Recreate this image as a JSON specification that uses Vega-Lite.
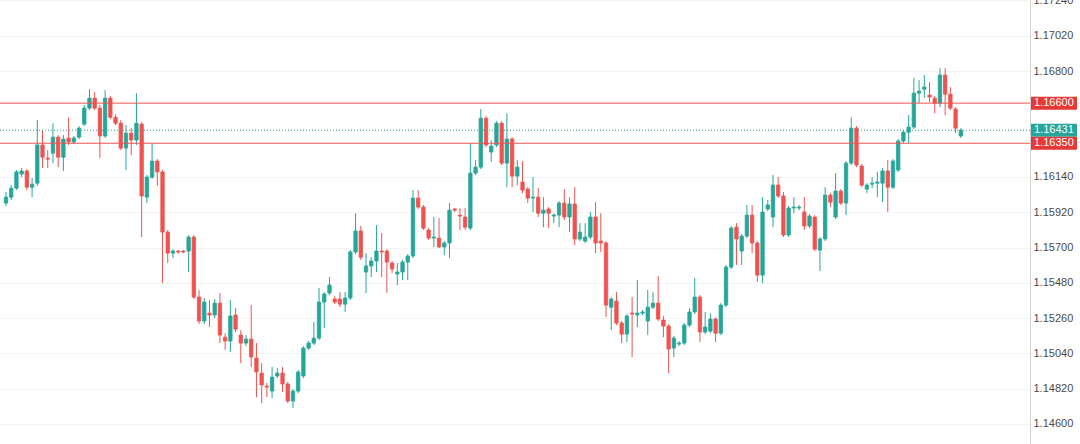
{
  "$schema": "https://vega.github.io/schema/vega-lite/v6.json",
  "width": 1030,
  "height": 444,
  "autosize": {"type": "none"},
  "padding": {"left": 0, "top": 0, "right": 50, "bottom": 0},
  "background": "#ffffff",
  "config": {
    "view": {"stroke": null},
    "font": "Liberation Sans",
    "axis": {"labelOverlap": false},
    "axisY": {"labelOverlap": false, "labelBound": false, "ticks": false, "labelPadding": 3, "labelFontSize": 11, "labelFont": "Liberation Sans", "labelColor": "#4a4a4a", "domainColor": "#d0d0d0", "gridColor": "#f3f3f3", "title": null}
  },
  "data": {"values": [
{"i":0,"o":1.15977,"h":1.16046,"l":1.15959,"c":1.16014},
{"i":1,"o":1.16014,"h":1.16089,"l":1.15996,"c":1.16070},
{"i":2,"o":1.16070,"h":1.16183,"l":1.16058,"c":1.16171},
{"i":3,"o":1.16158,"h":1.16195,"l":1.16139,"c":1.16177},
{"i":4,"o":1.16177,"h":1.16189,"l":1.16058,"c":1.16076},
{"i":5,"o":1.16076,"h":1.16133,"l":1.16014,"c":1.16095},
{"i":6,"o":1.16101,"h":1.16494,"l":1.16083,"c":1.16339},
{"i":7,"o":1.16339,"h":1.16432,"l":1.16195,"c":1.16263},
{"i":8,"o":1.16257,"h":1.16307,"l":1.16195,"c":1.16251},
{"i":9,"o":1.16288,"h":1.16475,"l":1.16226,"c":1.16388},
{"i":10,"o":1.16388,"h":1.16401,"l":1.16201,"c":1.16263},
{"i":11,"o":1.16263,"h":1.16401,"l":1.16177,"c":1.16376},
{"i":12,"o":1.16382,"h":1.16512,"l":1.16339,"c":1.16358},
{"i":13,"o":1.16358,"h":1.16395,"l":1.16345,"c":1.16382},
{"i":14,"o":1.16388,"h":1.16457,"l":1.16376,"c":1.16444},
{"i":15,"o":1.16469,"h":1.16588,"l":1.16457,"c":1.16569},
{"i":16,"o":1.16569,"h":1.16687,"l":1.16556,"c":1.16631},
{"i":17,"o":1.16631,"h":1.16669,"l":1.16556,"c":1.16569},
{"i":18,"o":1.16569,"h":1.16588,"l":1.16257,"c":1.16395},
{"i":19,"o":1.16395,"h":1.16681,"l":1.16382,"c":1.16631},
{"i":20,"o":1.16631,"h":1.16644,"l":1.16500,"c":1.16512},
{"i":21,"o":1.16512,"h":1.16531,"l":1.16463,"c":1.16475},
{"i":22,"o":1.16475,"h":1.16494,"l":1.16307,"c":1.16320},
{"i":23,"o":1.16320,"h":1.16463,"l":1.16183,"c":1.16413},
{"i":24,"o":1.16413,"h":1.16444,"l":1.16276,"c":1.16370},
{"i":25,"o":1.16370,"h":1.16662,"l":1.16339,"c":1.16475},
{"i":26,"o":1.16469,"h":1.16482,"l":1.15765,"c":1.16021},
{"i":27,"o":1.16014,"h":1.16152,"l":1.15977,"c":1.16139},
{"i":28,"o":1.16139,"h":1.16351,"l":1.16127,"c":1.16239},
{"i":29,"o":1.16239,"h":1.16251,"l":1.16083,"c":1.16171},
{"i":30,"o":1.16171,"h":1.16183,"l":1.15478,"c":1.15796},
{"i":31,"o":1.15796,"h":1.15809,"l":1.15603,"c":1.15665},
{"i":32,"o":1.15665,"h":1.15690,"l":1.15634,"c":1.15678},
{"i":33,"o":1.15678,"h":1.15684,"l":1.15659,"c":1.15672},
{"i":34,"o":1.15678,"h":1.15684,"l":1.15665,"c":1.15672},
{"i":35,"o":1.15678,"h":1.15778,"l":1.15547,"c":1.15765},
{"i":36,"o":1.15765,"h":1.15778,"l":1.15379,"c":1.15391},
{"i":37,"o":1.15391,"h":1.15435,"l":1.15223,"c":1.15242},
{"i":38,"o":1.15242,"h":1.15385,"l":1.15223,"c":1.15360},
{"i":39,"o":1.15291,"h":1.15372,"l":1.15204,"c":1.15279},
{"i":40,"o":1.15279,"h":1.15379,"l":1.15260,"c":1.15353},
{"i":41,"o":1.15353,"h":1.15416,"l":1.15104,"c":1.15154},
{"i":42,"o":1.15141,"h":1.15166,"l":1.15061,"c":1.15117},
{"i":43,"o":1.15117,"h":1.15372,"l":1.15049,"c":1.15273},
{"i":44,"o":1.15279,"h":1.15322,"l":1.15173,"c":1.15191},
{"i":45,"o":1.15154,"h":1.15185,"l":1.14979,"c":1.15104},
{"i":46,"o":1.15104,"h":1.15154,"l":1.15085,"c":1.15129},
{"i":47,"o":1.15129,"h":1.15341,"l":1.14955,"c":1.15017},
{"i":48,"o":1.15011,"h":1.15104,"l":1.14767,"c":1.14924},
{"i":49,"o":1.14917,"h":1.14979,"l":1.14730,"c":1.14843},
{"i":50,"o":1.14836,"h":1.14855,"l":1.14767,"c":1.14830},
{"i":51,"o":1.14805,"h":1.14955,"l":1.14761,"c":1.14892},
{"i":52,"o":1.14899,"h":1.14948,"l":1.14886,"c":1.14917},
{"i":53,"o":1.14917,"h":1.14955,"l":1.14799,"c":1.14849},
{"i":54,"o":1.14849,"h":1.14862,"l":1.14730,"c":1.14743},
{"i":55,"o":1.14743,"h":1.14817,"l":1.14699,"c":1.14805},
{"i":56,"o":1.14805,"h":1.14936,"l":1.14792,"c":1.14924},
{"i":57,"o":1.14899,"h":1.15085,"l":1.14886,"c":1.15073},
{"i":58,"o":1.15073,"h":1.15117,"l":1.15061,"c":1.15104},
{"i":59,"o":1.15104,"h":1.15235,"l":1.15092,"c":1.15135},
{"i":60,"o":1.15135,"h":1.15447,"l":1.15123,"c":1.15360},
{"i":61,"o":1.15360,"h":1.15422,"l":1.15198,"c":1.15410},
{"i":62,"o":1.15416,"h":1.15516,"l":1.15403,"c":1.15466},
{"i":63,"o":1.15379,"h":1.15397,"l":1.15347,"c":1.15360},
{"i":64,"o":1.15379,"h":1.15422,"l":1.15328,"c":1.15347},
{"i":65,"o":1.15347,"h":1.15422,"l":1.15298,"c":1.15385},
{"i":66,"o":1.15385,"h":1.15684,"l":1.15372,"c":1.15672},
{"i":67,"o":1.15672,"h":1.15914,"l":1.15659,"c":1.15803},
{"i":68,"o":1.15803,"h":1.15834,"l":1.15622,"c":1.15640},
{"i":69,"o":1.15547,"h":1.15665,"l":1.15416,"c":1.15585},
{"i":70,"o":1.15585,"h":1.15640,"l":1.15516,"c":1.15616},
{"i":71,"o":1.15616,"h":1.15840,"l":1.15547,"c":1.15678},
{"i":72,"o":1.15678,"h":1.15790,"l":1.15516,"c":1.15672},
{"i":73,"o":1.15678,"h":1.15690,"l":1.15416,"c":1.15609},
{"i":74,"o":1.15603,"h":1.15616,"l":1.15541,"c":1.15566},
{"i":75,"o":1.15535,"h":1.15603,"l":1.15466,"c":1.15547},
{"i":76,"o":1.15547,"h":1.15622,"l":1.15497,"c":1.15609},
{"i":77,"o":1.15609,"h":1.15659,"l":1.15497,"c":1.15647},
{"i":78,"o":1.15647,"h":1.16058,"l":1.15634,"c":1.16008},
{"i":79,"o":1.16008,"h":1.16058,"l":1.15940,"c":1.15952},
{"i":80,"o":1.15952,"h":1.15965,"l":1.15809,"c":1.15821},
{"i":81,"o":1.15809,"h":1.15821,"l":1.15746,"c":1.15759},
{"i":82,"o":1.15759,"h":1.15890,"l":1.15703,"c":1.15765},
{"i":83,"o":1.15759,"h":1.15883,"l":1.15697,"c":1.15703},
{"i":84,"o":1.15703,"h":1.15740,"l":1.15653,"c":1.15728},
{"i":85,"o":1.15728,"h":1.15977,"l":1.15634,"c":1.15933},
{"i":86,"o":1.15940,"h":1.15946,"l":1.15921,"c":1.15933},
{"i":87,"o":1.15902,"h":1.15946,"l":1.15809,"c":1.15896},
{"i":88,"o":1.15890,"h":1.15946,"l":1.15809,"c":1.15827},
{"i":89,"o":1.15821,"h":1.16351,"l":1.15809,"c":1.16164},
{"i":90,"o":1.16164,"h":1.16245,"l":1.16152,"c":1.16201},
{"i":91,"o":1.16201,"h":1.16563,"l":1.16189,"c":1.16506},
{"i":92,"o":1.16506,"h":1.16519,"l":1.16326,"c":1.16339},
{"i":93,"o":1.16295,"h":1.16370,"l":1.16233,"c":1.16332},
{"i":94,"o":1.16339,"h":1.16488,"l":1.16326,"c":1.16475},
{"i":95,"o":1.16475,"h":1.16488,"l":1.16214,"c":1.16226},
{"i":96,"o":1.16226,"h":1.16537,"l":1.16076,"c":1.16376},
{"i":97,"o":1.16376,"h":1.16388,"l":1.16076,"c":1.16145},
{"i":98,"o":1.16145,"h":1.16245,"l":1.16089,"c":1.16201},
{"i":99,"o":1.16108,"h":1.16239,"l":1.16039,"c":1.16058},
{"i":100,"o":1.16064,"h":1.16076,"l":1.15977,"c":1.16008},
{"i":101,"o":1.16008,"h":1.16139,"l":1.15921,"c":1.16014},
{"i":102,"o":1.16014,"h":1.16070,"l":1.15890,"c":1.15914},
{"i":103,"o":1.15914,"h":1.16014,"l":1.15827,"c":1.15933},
{"i":104,"o":1.15940,"h":1.15952,"l":1.15821,"c":1.15914},
{"i":105,"o":1.15896,"h":1.15914,"l":1.15852,"c":1.15902},
{"i":106,"o":1.15902,"h":1.15990,"l":1.15827,"c":1.15977},
{"i":107,"o":1.15977,"h":1.16064,"l":1.15871,"c":1.15890},
{"i":108,"o":1.15890,"h":1.16014,"l":1.15796,"c":1.15971},
{"i":109,"o":1.15971,"h":1.16076,"l":1.15715,"c":1.15753},
{"i":110,"o":1.15753,"h":1.15852,"l":1.15740,"c":1.15796},
{"i":111,"o":1.15740,"h":1.15852,"l":1.15728,"c":1.15765},
{"i":112,"o":1.15765,"h":1.15921,"l":1.15753,"c":1.15890},
{"i":113,"o":1.15890,"h":1.15983,"l":1.15665,"c":1.15728},
{"i":114,"o":1.15740,"h":1.15914,"l":1.15672,"c":1.15728},
{"i":115,"o":1.15728,"h":1.15740,"l":1.15266,"c":1.15341},
{"i":116,"o":1.15328,"h":1.15391,"l":1.15185,"c":1.15379},
{"i":117,"o":1.15366,"h":1.15422,"l":1.15216,"c":1.15229},
{"i":118,"o":1.15229,"h":1.15242,"l":1.15104,"c":1.15160},
{"i":119,"o":1.15160,"h":1.15285,"l":1.15110,"c":1.15273},
{"i":120,"o":1.15291,"h":1.15391,"l":1.15017,"c":1.15285},
{"i":121,"o":1.15279,"h":1.15497,"l":1.15204,"c":1.15291},
{"i":122,"o":1.15291,"h":1.15310,"l":1.15279,"c":1.15298},
{"i":123,"o":1.15242,"h":1.15435,"l":1.15154,"c":1.15328},
{"i":124,"o":1.15328,"h":1.15422,"l":1.15316,"c":1.15353},
{"i":125,"o":1.15353,"h":1.15522,"l":1.15242,"c":1.15254},
{"i":126,"o":1.15248,"h":1.15273,"l":1.15141,"c":1.15210},
{"i":127,"o":1.15210,"h":1.15223,"l":1.14917,"c":1.15067},
{"i":128,"o":1.15073,"h":1.15148,"l":1.15017,"c":1.15135},
{"i":129,"o":1.15098,"h":1.15117,"l":1.15085,"c":1.15104},
{"i":130,"o":1.15104,"h":1.15229,"l":1.15092,"c":1.15216},
{"i":131,"o":1.15216,"h":1.15322,"l":1.15204,"c":1.15298},
{"i":132,"o":1.15298,"h":1.15510,"l":1.15285,"c":1.15391},
{"i":133,"o":1.15391,"h":1.15403,"l":1.15110,"c":1.15173},
{"i":134,"o":1.15173,"h":1.15298,"l":1.15160,"c":1.15204},
{"i":135,"o":1.15179,"h":1.15291,"l":1.15166,"c":1.15254},
{"i":136,"o":1.15254,"h":1.15266,"l":1.15110,"c":1.15166},
{"i":137,"o":1.15166,"h":1.15353,"l":1.15154,"c":1.15341},
{"i":138,"o":1.15341,"h":1.15591,"l":1.15328,"c":1.15578},
{"i":139,"o":1.15578,"h":1.15834,"l":1.15566,"c":1.15821},
{"i":140,"o":1.15827,"h":1.15852,"l":1.15591,"c":1.15753},
{"i":141,"o":1.15678,"h":1.15784,"l":1.15591,"c":1.15771},
{"i":142,"o":1.15771,"h":1.15965,"l":1.15759,"c":1.15902},
{"i":143,"o":1.15902,"h":1.15965,"l":1.15665,"c":1.15728},
{"i":144,"o":1.15728,"h":1.15740,"l":1.15485,"c":1.15528},
{"i":145,"o":1.15528,"h":1.16014,"l":1.15478,"c":1.15921},
{"i":146,"o":1.15940,"h":1.15996,"l":1.15927,"c":1.15965},
{"i":147,"o":1.15890,"h":1.16152,"l":1.15827,"c":1.16089},
{"i":148,"o":1.16089,"h":1.16139,"l":1.16008,"c":1.16021},
{"i":149,"o":1.16021,"h":1.16046,"l":1.15765,"c":1.15778},
{"i":150,"o":1.15778,"h":1.15959,"l":1.15765,"c":1.15946},
{"i":151,"o":1.15946,"h":1.16014,"l":1.15914,"c":1.15952},
{"i":152,"o":1.15946,"h":1.15965,"l":1.15933,"c":1.15952},
{"i":153,"o":1.15921,"h":1.16014,"l":1.15809,"c":1.15834},
{"i":154,"o":1.15834,"h":1.15908,"l":1.15821,"c":1.15896},
{"i":155,"o":1.15890,"h":1.15902,"l":1.15678,"c":1.15690},
{"i":156,"o":1.15684,"h":1.15765,"l":1.15553,"c":1.15753},
{"i":157,"o":1.15753,"h":1.16076,"l":1.15740,"c":1.16027},
{"i":158,"o":1.16027,"h":1.16039,"l":1.15952,"c":1.15983},
{"i":159,"o":1.15890,"h":1.16164,"l":1.15877,"c":1.16052},
{"i":160,"o":1.16052,"h":1.16064,"l":1.15965,"c":1.15977},
{"i":161,"o":1.15977,"h":1.16239,"l":1.15902,"c":1.16226},
{"i":162,"o":1.16226,"h":1.16512,"l":1.16214,"c":1.16444},
{"i":163,"o":1.16444,"h":1.16457,"l":1.16201,"c":1.16214},
{"i":164,"o":1.16208,"h":1.16220,"l":1.16076,"c":1.16089},
{"i":165,"o":1.16064,"h":1.16101,"l":1.16039,"c":1.16089},
{"i":166,"o":1.16095,"h":1.16139,"l":1.16070,"c":1.16101},
{"i":167,"o":1.16101,"h":1.16171,"l":1.16014,"c":1.16108},
{"i":168,"o":1.16101,"h":1.16195,"l":1.15983,"c":1.16177},
{"i":169,"o":1.16177,"h":1.16245,"l":1.15921,"c":1.16076},
{"i":170,"o":1.16076,"h":1.16251,"l":1.16064,"c":1.16239},
{"i":171,"o":1.16183,"h":1.16376,"l":1.16171,"c":1.16364},
{"i":172,"o":1.16364,"h":1.16432,"l":1.16351,"c":1.16419},
{"i":173,"o":1.16419,"h":1.16525,"l":1.16351,"c":1.16451},
{"i":174,"o":1.16451,"h":1.16756,"l":1.16438,"c":1.16662},
{"i":175,"o":1.16662,"h":1.16743,"l":1.16600,"c":1.16675},
{"i":176,"o":1.16687,"h":1.16775,"l":1.16631,"c":1.16700},
{"i":177,"o":1.16650,"h":1.16731,"l":1.16606,"c":1.16638},
{"i":178,"o":1.16631,"h":1.16644,"l":1.16537,"c":1.16600},
{"i":179,"o":1.16600,"h":1.16818,"l":1.16575,"c":1.16775},
{"i":180,"o":1.16775,"h":1.16818,"l":1.16525,"c":1.16656},
{"i":181,"o":1.16656,"h":1.16700,"l":1.16556,"c":1.16569},
{"i":182,"o":1.16563,"h":1.16575,"l":1.16413,"c":1.16444},
{"i":183,"o":1.16395,"h":1.16444,"l":1.16382,"c":1.16431}
  ]},
  "encoding": {
    "x": {"field": "i", "type": "quantitative", "scale": {"domain": [-0.19, 195.3], "nice": false, "zero": false}, "axis": null}
  },
  "layer": [
    {
      "mark": {"type": "rule", "strokeWidth": 1},
      "encoding": {
        "y": {"field": "l", "type": "quantitative",
          "scale": {"domain": [1.14475, 1.17243], "nice": false, "zero": false},
          "axis": {
            "orient": "right",
            "values": [1.146, 1.1482, 1.1504, 1.1526, 1.1548, 1.157, 1.1592, 1.1614, 1.168, 1.1702, 1.1724],
            "format": ".5f",
            "title": null,
            "labelOverlap": false,
            "grid": true
          }
        },
        "y2": {"field": "h"},
        "color": {"condition": {"test": "datum.c >= datum.o", "value": "#26a69a"}, "value": "#ef5350"}
      }
    },
    {
      "mark": {"type": "bar", "size": 3.4, "strokeWidth": 0.8},
      "encoding": {
        "y": {"field": "o", "type": "quantitative"},
        "y2": {"field": "c"},
        "color": {"condition": {"test": "datum.c >= datum.o", "value": "#26a69a"}, "value": "#ef5350"},
        "stroke": {"condition": {"test": "datum.c >= datum.o", "value": "#26a69a"}, "value": "#ef5350"}
      }
    },
    {
      "data": {"values": [
        {"p": 1.166, "t": "1.16600", "k": "r"},
        {"p": 1.1635, "t": "1.16350", "k": "r"}
      ]},
      "mark": {"type": "rule", "strokeWidth": 1, "color": "#ef5350"},
      "encoding": {
        "x": {"value": 0},
        "x2": {"value": "width"},
        "y": {"field": "p", "type": "quantitative"}
      }
    },
    {
      "data": {"values": [
        {"p": 1.16431, "t": "1.16431", "k": "g"}
      ]},
      "mark": {"type": "rule", "strokeWidth": 1, "color": "#26a69a", "strokeDash": [1, 2]},
      "encoding": {
        "x": {"value": 0},
        "x2": {"value": "width"},
        "y": {"field": "p", "type": "quantitative"}
      }
    },
    {
      "data": {"values": [
        {"p": 1.166, "t": "1.16600", "k": "r"},
        {"p": 1.16431, "t": "1.16431", "k": "g"},
        {"p": 1.1635, "t": "1.16350", "k": "r"}
      ]},
      "mark": {"type": "rect", "xOffset": 1, "x2Offset": 47, "yOffset": -6.5, "y2Offset": 6.5},
      "encoding": {
        "x": {"value": "width"},
        "x2": {"value": "width"},
        "y": {"field": "p", "type": "quantitative"},
        "y2": {"field": "p"},
        "color": {"condition": {"test": "datum.k == 'g'", "value": "#26a69a"}, "value": "#e53935"}
      }
    },
    {
      "data": {"values": [
        {"p": 1.166, "t": "1.16600", "k": "r"},
        {"p": 1.16431, "t": "1.16431", "k": "g"},
        {"p": 1.1635, "t": "1.16350", "k": "r"}
      ]},
      "mark": {"type": "text", "align": "left", "baseline": "middle", "dx": 4, "fontSize": 11, "font": "Liberation Sans", "color": "#ffffff"},
      "encoding": {
        "x": {"value": "width"},
        "y": {"field": "p", "type": "quantitative"},
        "text": {"field": "t"}
      }
    }
  ]
}
